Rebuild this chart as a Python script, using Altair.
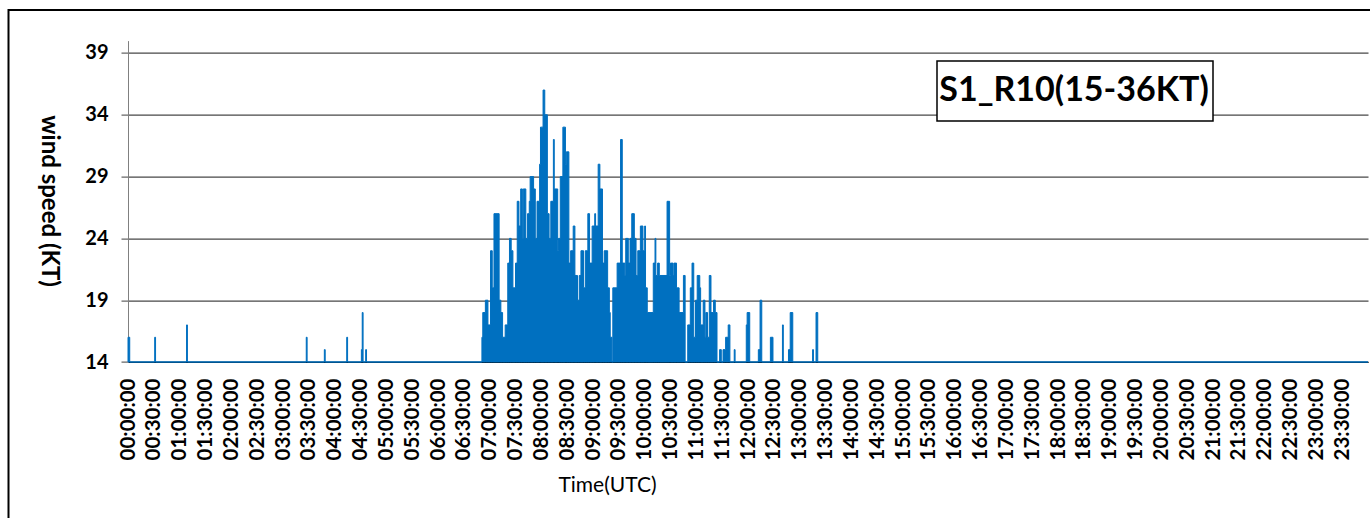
import altair as alt
import pandas as pd

# change points of a minute-resolution wind record (value holds until next change)
change_minute = [
    0, 2, 31, 32, 68, 69, 207, 208, 228, 229, 254, 255, 271, 272, 273, 276, 277,
    411, 412, 415, 418, 421, 423, 425, 431, 433, 435, 438, 441, 443, 445, 447, 450,
    452, 454, 456, 458, 459, 462, 464, 466, 467, 471, 473, 475, 478, 479, 482, 484,
    487, 489, 491, 494, 495, 499, 500, 502, 505, 508, 509, 512, 514, 517, 519, 522,
    524, 526, 529, 531, 534, 536, 539, 542, 543, 546, 548, 551, 553, 557, 559, 560,
    562, 563, 568, 572, 574, 577, 578, 581, 583, 585, 588, 590, 592, 595, 598, 600,
    601, 603, 610, 612, 613, 615, 617, 626, 629, 630, 633, 634, 637, 640, 645, 647,
    650, 653, 655, 657, 659, 661, 664, 665, 668, 670, 671, 673, 675, 677, 680, 682,
    684, 687, 689, 691, 694, 697, 699, 704, 705, 718, 719, 722, 732, 734, 736, 746,
    749, 760, 761, 767, 769, 772, 795, 796, 799, 801, 1440,
]
change_value = [
    16, 14, 16, 14, 17, 14, 16, 14, 15, 14, 16, 14, 15, 18, 14, 15, 14,
    16, 18, 19, 17, 23, 20, 26, 19, 18, 16, 17, 22, 24, 23, 20, 22,
    27, 25, 28, 24, 28, 24, 26, 27, 29, 28, 24, 27, 30, 33, 36, 34,
    26, 24, 27, 32, 28, 23, 24, 29, 33, 30, 31, 22, 23, 25, 21, 19,
    21, 23, 20, 23, 26, 22, 25, 26, 25, 30, 28, 22, 23, 20, 18, 16,
    14, 20, 22, 32, 22, 21, 24, 22, 24, 26, 24, 21, 23, 25, 23, 25,
    20, 18, 22, 24, 21, 22, 21, 27, 21, 22, 21, 22, 20, 18, 21, 14,
    17, 20, 22, 16, 19, 21, 20, 17, 19, 16, 18, 16, 21, 18, 19, 18,
    14, 15, 14, 15, 16, 17, 14, 15, 14, 17, 18, 14, 15, 19, 14, 16,
    14, 17, 14, 15, 18, 14, 15, 14, 18, 14, 14,
]

tick_minutes = list(range(0, 1440, 30))
tick_labels = [f"{m // 60:02d}:{m % 60:02d}:00" for m in tick_minutes]
y_ticks = [14, 19, 24, 29, 34, 39]
box_title = "S1_R10(15-36KT)"

df = pd.DataFrame({"minute": change_minute, "speed": change_value})

label_expr = "[" + ",".join(f"'{t}'" for t in tick_labels) + "][round(datum.value/30)]"

FONT = "Lato"
BLUE = "#0070C0"

area = alt.Chart(df).mark_area(
    interpolate="step-after", color=BLUE, stroke=BLUE, strokeWidth=1, opacity=1
).encode(
    x=alt.X(
        "minute:Q",
        scale=alt.Scale(domain=[0, 1440], nice=False, zero=False),
        axis=alt.Axis(
            values=tick_minutes,
            labelExpr=label_expr,
            labelAngle=270,
            labelAlign="right",
            labelBaseline="middle",
            labelPadding=16,
            labelFont=FONT,
            labelFontSize=20.5,
            labelFontWeight="bold",
            labelColor="black",
            labelOverlap=False,
            labelFlush=False,
            labelBound=False,
            ticks=False,
            grid=False,
            domainColor="black",
            domainWidth=1,
            title="Time(UTC)",
            titleFont=FONT,
            titleFontSize=21,
            titleFontWeight="normal",
            titleColor="black",
            titleX=479,
            titleY=123,
            titleAlign="center",
            titleBaseline="middle",
        ),
    ),
    y=alt.Y(
        "speed:Q",
        scale=alt.Scale(domain=[14, 40], nice=False, zero=False),
        axis=alt.Axis(
            values=y_ticks,
            labelFont=FONT,
            labelFontSize=20,
            labelFontWeight="bold",
            labelColor="black",
            labelPadding=13,
            tickSize=7,
            tickColor="#404040",
            domainColor="#808080",
            domainWidth=1,
            gridColor="#1a1a1a",
            gridWidth=1,
            title="wind speed (KT)",
            titleFont=FONT,
            titleFontSize=24,
            titleFontWeight="bold",
            titleColor="black",
            titleAngle=90,
            titleX=-80,
            titleY=160,
            titleAlign="center",
            titleBaseline="middle",
        ),
    ),
    y2=alt.datum(14),
)

one = pd.DataFrame({"k": [0]})

border = alt.Chart(one).mark_rect(
    fillOpacity=0, stroke="black", strokeWidth=2
).encode(
    x=alt.value(-119.5), x2=alt.value(1400), y=alt.value(-30.5), y2=alt.value(600)
)

box = alt.Chart(one).mark_rect(
    fill="white", stroke="black", strokeWidth=1.5
).encode(
    x=alt.value(809), x2=alt.value(1085), y=alt.value(20.5), y2=alt.value(80.5)
)

box_text = alt.Chart(one).mark_text(
    font=FONT, fontSize=34, fontWeight="bold", color="black",
    align="center", baseline="middle"
).encode(
    x=alt.value(946), y=alt.value(50), text=alt.value(box_title)
)

chart = alt.layer(area, box, box_text, border).properties(
    width=1240,
    height=321.4,
    padding={"left": 128, "top": 40.6, "right": 2, "bottom": 156},
    autosize=alt.AutoSizeParams(type="none"),
    background="white",
).configure_view(stroke=None)

chart.save("out.html", embed_options={"renderer": "svg", "actions": False})
